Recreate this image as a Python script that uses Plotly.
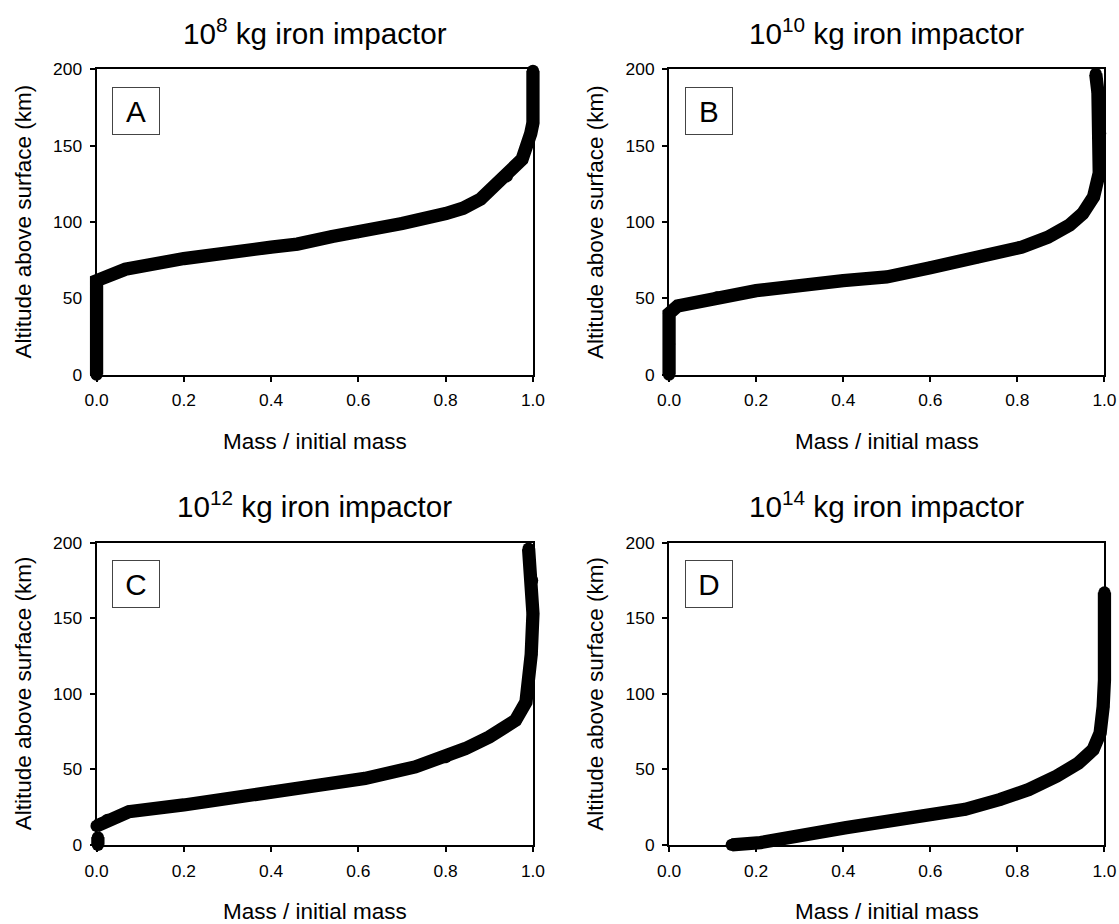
import plotly.graph_objects as go

# ---- data ----
A_mass = [0.0, 0.0, 0.0, 0.066, 0.2, 0.4, 0.46, 0.54, 0.6, 0.7, 0.8, 0.84, 0.88, 0.94, 0.975, 0.995, 1.0, 1.0]
A_alt = [0, 30, 61.5, 69, 76, 83.5, 85.5, 90.5, 93.4, 99, 105.5, 109, 115, 130, 141, 158, 165, 199]

B_mass = [0.0, 0.0, 0.0, 0.02, 0.11, 0.2, 0.4, 0.5, 0.6, 0.71, 0.81, 0.87, 0.92, 0.95, 0.975, 0.988, 0.99, 0.985, 0.98]
B_alt = [0, 20, 40, 45, 50.5, 55, 61.5, 64, 70, 77, 83.5, 90, 98, 105.5, 116.5, 132, 158, 185, 197]

C_mass = [0.003, 0.003, None, 0.0, 0.025, 0.074, 0.2, 0.4, 0.615, 0.73, 0.8, 0.845, 0.9, 0.96, 0.984, 0.99, 0.996, 1.0, 0.998, 0.99]
C_alt = [0, 5, None, 12.5, 16.5, 22, 26.4, 35, 44, 51.6, 58, 63.7, 71.4, 82.4, 94.5, 106.6, 126, 153, 175, 196]

D_mass = [0.144, 0.21, 0.407, 0.604, 0.68, 0.76, 0.826, 0.89, 0.94, 0.974, 0.99, 0.997, 1.0, 1.0]
D_alt = [0, 1.5, 11.4, 20.2, 23.5, 30, 36.6, 45.4, 54, 63, 74, 91.4, 109, 167]

panel_letters = ["A", "B", "C", "D"]
panel_exponents = ["8", "10", "12", "14"]
x_ticks = [0.0, 0.2, 0.4, 0.6, 0.8, 1.0]
y_ticks = [0, 50, 100, 150, 200]
x_label = "Mass / initial mass"
y_label = "Altitude above surface (km)"

# ---- layout geometry ----
# target positions are given in picture pixels; they are mapped to page pixels
# with the small inset/scale observed in the photographed page.
S, OX, OY = 0.978, 11.5, 9.7
W, H = 1135, 937


def px(r):
    return (r - OX) / S


def py(r):
    return (r - OY) / S


def fx(r):
    return px(r) / W


def fy(r):
    return 1 - py(r) / H


def fs(v):
    return v / S


boxes = [(96, 532, 69, 374), (668, 1103, 69, 374), (96, 532, 542, 844), (668, 1103, 542, 844)]
series = [(A_mass, A_alt), (B_mass, B_alt), (C_mass, C_alt), (D_mass, D_alt)]
FONT = "Liberation Sans, Arial, sans-serif"
EXT = 16
LW = fs(13)

fig = go.Figure()
layout = dict(width=W, height=H, autosize=False, margin=dict(l=0, r=0, t=0, b=0),
              paper_bgcolor="white", plot_bgcolor="rgba(0,0,0,0)", showlegend=False,
              font=dict(family=FONT, color="black"))
annotations = []

for i, ((x0, x1, y0, y1), (mx, ay)) in enumerate(zip(boxes, series)):
    vis = i + 1
    dat = i + 5
    vs = "" if vis == 1 else str(vis)
    ds = str(dat)
    pw, ph = px(x1) - px(x0), py(y1) - py(y0)
    tick_common = dict(showline=True, mirror=True, linecolor="black", linewidth=2,
                       ticks="outside", ticklen=5, tickwidth=1.5, tickcolor="black",
                       tickfont=dict(size=fs(17), family=FONT, color="black"),
                       ticklabelstandoff=4, showgrid=False, zeroline=False, fixedrange=True)
    layout["xaxis" + vs] = dict(domain=[fx(x0), fx(x1)], range=[0, 1], anchor="y" + vs,
                                tickvals=x_ticks, ticktext=[f"{v:.1f}" for v in x_ticks],
                                **tick_common)
    layout["yaxis" + vs] = dict(domain=[fy(y1), fy(y0)], range=[0, 200], anchor="x" + vs,
                                tickvals=y_ticks, **tick_common)
    fig.add_trace(go.Scatter(x=[], y=[], xaxis="x" + vs, yaxis="y" + vs, hoverinfo="skip"))
    # hidden data axes: same data->pixel mapping, wider domain so the thick line is not clipped
    ex = EXT / pw
    ey = 200 * EXT / ph
    layout["xaxis" + ds] = dict(domain=[(px(x0) - EXT) / W, (px(x1) + EXT) / W], range=[-ex, 1 + ex],
                                anchor="y" + ds, visible=False, fixedrange=True)
    layout["yaxis" + ds] = dict(domain=[1 - (py(y1) + EXT) / H, 1 - (py(y0) - EXT) / H],
                                range=[-ey, 200 + ey], anchor="x" + ds, visible=False, fixedrange=True)
    fig.add_trace(go.Scatter(x=mx, y=ay, xaxis="x" + ds, yaxis="y" + ds, mode="lines+markers",
                             line=dict(color="black", width=LW),
                             marker=dict(color="black", size=LW - 1, line=dict(width=0)),
                             connectgaps=False, hoverinfo="skip"))

    cx = (x0 + x1) / 2
    cy = (y0 + y1) / 2
    annotations.append(dict(text=f"10<sup>{panel_exponents[i]}</sup> kg iron impactor",
                            x=fx(cx), y=fy(y0 - 38), xref="paper", yref="paper",
                            xanchor="center", yanchor="middle", showarrow=False,
                            font=dict(size=fs(29), family=FONT, color="black")))
    annotations.append(dict(text=x_label, x=fx(cx), y=fy(y1 + 67), xref="paper", yref="paper",
                            xanchor="center", yanchor="middle", showarrow=False,
                            font=dict(size=fs(22), family=FONT, color="black")))
    annotations.append(dict(text=y_label, x=fx(x0 - 73), y=fy(cy), xref="paper", yref="paper",
                            xanchor="center", yanchor="middle", textangle=-90, showarrow=False,
                            font=dict(size=fs(22), family=FONT, color="black")))
    annotations.append(dict(text=panel_letters[i], x=fx(x0 + 39.5), y=fy(y0 + 41.5),
                            xref="paper", yref="paper", xanchor="center", yanchor="middle",
                            showarrow=False, width=fs(45), height=fs(45), borderpad=0,
                            bordercolor="#444444", borderwidth=1, bgcolor="white",
                            font=dict(size=fs(29), family=FONT, color="black")))

layout["annotations"] = annotations
fig.update_layout(**layout)
fig.write_html("out.html", config={"displayModeBar": False},
               post_script="document.body.style.margin='0';document.body.style.overflow='hidden';")
